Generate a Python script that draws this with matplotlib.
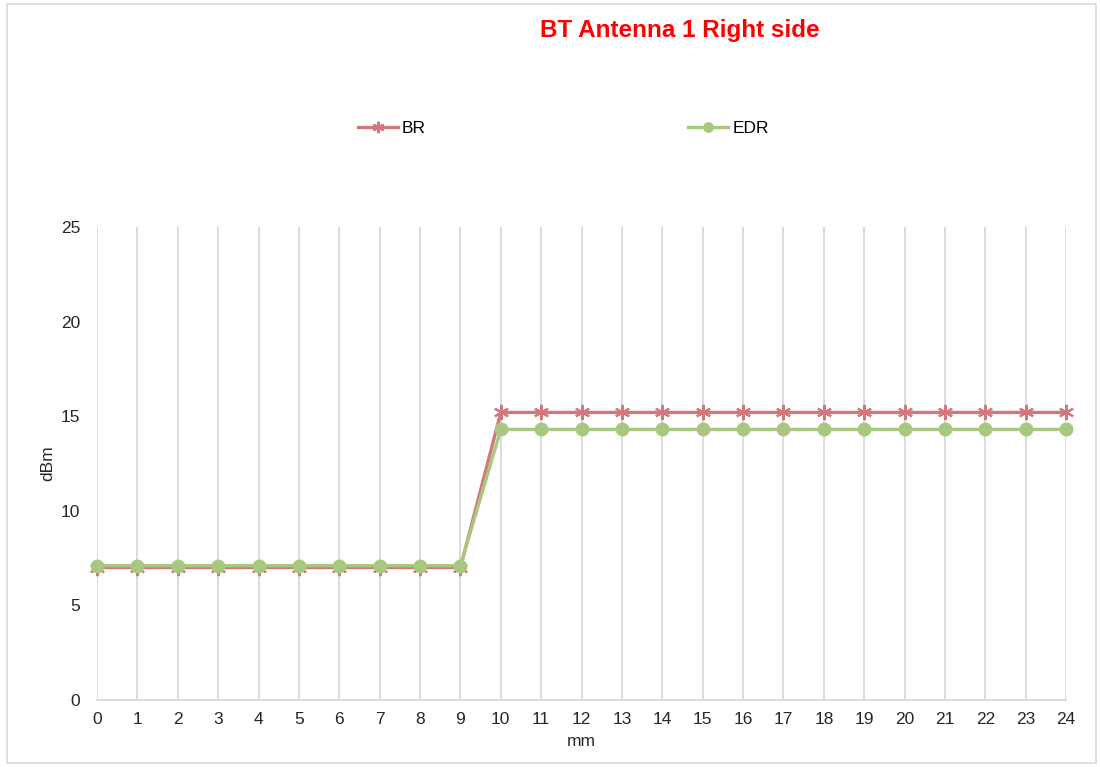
import matplotlib.pyplot as plt
import numpy as np

plt.rcParams['font.family'] = ['Liberation Sans', 'DejaVu Sans']

# Data
mm = list(range(25))
br = [7.0] * 10 + [15.2] * 15
edr = [7.1] * 10 + [14.3] * 15

br_color = '#D4777A'
edr_color = '#A8C77F'


def main():
    fig = plt.figure(figsize=(11, 7.67), dpi=100)
    ax = fig.add_axes([0.0882, 0.0874, 0.881, 0.6166])

    ax.plot(mm, br, color=br_color, linewidth=2.4, marker=(6, 2, 0),
            markersize=11, markeredgewidth=1.5, markeredgecolor=br_color,
            label='BR', zorder=3)
    ax.plot(mm, edr, color=edr_color, linewidth=2.4, marker='o',
            markersize=9, markeredgecolor=edr_color, label='EDR', zorder=4)

    ax.set_xlim(0, 24)
    ax.set_ylim(0, 25)
    ax.set_xticks(mm)
    ax.set_yticks(range(0, 26, 5))
    ax.grid(True, axis='x', color='#D9D9D9', linewidth=1.3)
    ax.set_axisbelow(True)
    for side in ['left', 'right', 'top']:
        ax.spines[side].set_visible(False)
    ax.spines['bottom'].set_color('#D9D9D9')
    ax.spines['bottom'].set_linewidth(1.3)
    ax.tick_params(axis='both', length=0, labelsize=12.5, colors='#262626')
    ax.tick_params(axis='x', pad=9)
    ax.tick_params(axis='y', pad=12)
    for line in ax.lines:
        line.set_clip_on(False)

    ax.set_xlabel('mm', fontsize=12.5, color='#262626', labelpad=5)
    ax.set_ylabel('dBm', fontsize=12.5, color='#262626', labelpad=4)

    fig.text(0.618, 0.96, 'BT Antenna 1 Right side', color='#FF0000',
             fontsize=17.5, fontweight='bold', ha='center', va='center')

    fig.legend(loc='center', bbox_to_anchor=(0.512, 0.833), ncol=2,
               frameon=False, fontsize=12.5, handlelength=2.3,
               handletextpad=0.25, columnspacing=15.1, markerscale=0.75)

    # chart border
    border = plt.Rectangle((0.006, 0.005), 0.99, 0.99, transform=fig.transFigure,
                           fill=False, edgecolor='#D9D9D9', linewidth=1.2)
    fig.add_artist(border)

    fig.savefig('out.png', dpi=100)


if __name__ == '__main__':
    main()
